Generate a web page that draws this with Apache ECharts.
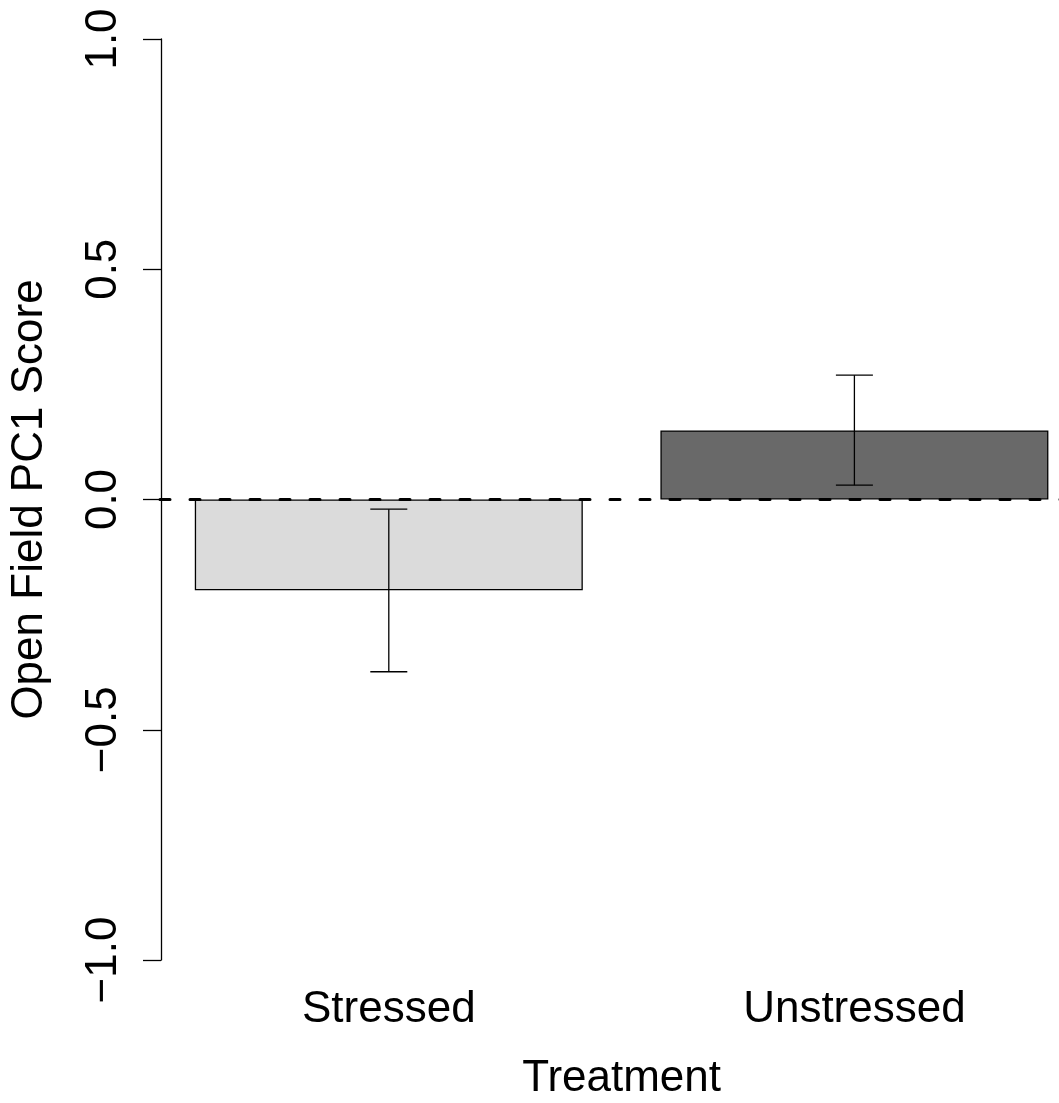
<!DOCTYPE html>
<html>
<head>
<meta charset="utf-8">
<script src="https://cdn.jsdelivr.net/npm/echarts@6/dist/echarts.min.js"></script>
<style>
html,body{margin:0;padding:0;background:#fff;}
#chart{width:1059px;height:1103px;}
</style>
</head>
<body>
<div id="chart"></div>
<script>
const categories = ['Stressed', 'Unstressed'];
const means = [-0.197, 0.150];
const errLow = [-0.374, 0.031];
const errHigh = [-0.021, 0.270];
const barColors = ['#DBDBDB', '#696969'];
const yTicks = [-1.0, -0.5, 0.0, 0.5, 1.0];
const yTickLabels = ['\u22121.0', '\u22120.5', '0.0', '0.5', '1.0'];

const FONT = '"Liberation Sans", Arial, Helvetica, sans-serif';
const chart = echarts.init(document.getElementById('chart'), null, {renderer: 'canvas'});

const errData = categories.map((c, i) => [i, errLow[i], errHigh[i]]);

const option = {
  animation: false,
  backgroundColor: '#ffffff',
  textStyle: {fontFamily: FONT},
  grid: {left: 156, top: 39, width: 931.2, height: 921, containLabel: false, outerBoundsMode: 'none'},
  xAxis: {
    type: 'category',
    data: categories,
    axisLine: {show: false},
    axisTick: {show: false},
    axisLabel: {fontSize: 44, lineHeight: 44, color: '#000', margin: 28, fontFamily: FONT},
    name: 'Treatment',
    nameLocation: 'middle',
    nameGap: 97,
    nameTextStyle: {fontSize: 44, lineHeight: 44, color: '#000', fontFamily: FONT}
  },
  yAxis: {
    type: 'value',
    min: yTicks[0],
    max: yTicks[yTicks.length - 1],
    interval: 0.5,
    offset: -5,
    splitLine: {show: false},
    axisLine: {show: true, lineStyle: {color: '#000', width: 1.3}},
    axisTick: {show: true, inside: false, length: 18, lineStyle: {color: '#000', width: 1.3}},
    axisLabel: {
      rotate: 90,
      fontSize: 44,
      lineHeight: 44,
      color: '#000',
      margin: 35,
      fontFamily: FONT,
      showMinLabel: true,
      showMaxLabel: true,
      formatter: function (v) {
        const idx = yTicks.findIndex(t => Math.abs(t - v) < 1e-9);
        return idx >= 0 ? yTickLabels[idx] : '';
      }
    },
    name: 'Open Field PC1 Score',
    nameLocation: 'middle',
    nameGap: 109,
    nameRotate: 90,
    nameTextStyle: {fontSize: 44, lineHeight: 44, color: '#000', fontFamily: FONT}
  },
  series: [
    {
      type: 'bar',
      barWidth: 388,
      data: means.map((v, i) => ({
        value: v,
        itemStyle: {color: barColors[i], borderColor: '#000', borderWidth: 1.3}
      })),
      z: 2,
      markLine: {
        silent: true,
        symbol: ['none', 'none'],
        z: 10,
        label: {show: false},
        lineStyle: {color: '#000', width: 3, type: [10, 20], dashOffset: 26, cap: 'round'},
        data: [{yAxis: 0}]
      }
    },
    {
      type: 'custom',
      z: 5,
      data: errData,
      renderItem: function (params, api) {
        const x = api.value(0);
        const lo = api.coord([x, api.value(1)]);
        const hi = api.coord([x, api.value(2)]);
        const hw = 18.5;
        const style = {stroke: '#000', lineWidth: 1.3, fill: null};
        return {
          type: 'group',
          children: [
            {type: 'line', shape: {x1: lo[0], y1: lo[1], x2: hi[0], y2: hi[1]}, style: style},
            {type: 'line', shape: {x1: lo[0] - hw, y1: lo[1], x2: lo[0] + hw, y2: lo[1]}, style: style},
            {type: 'line', shape: {x1: hi[0] - hw, y1: hi[1], x2: hi[0] + hw, y2: hi[1]}, style: style}
          ]
        };
      }
    }
  ]
};
chart.setOption(option);
</script>
</body>
</html>
